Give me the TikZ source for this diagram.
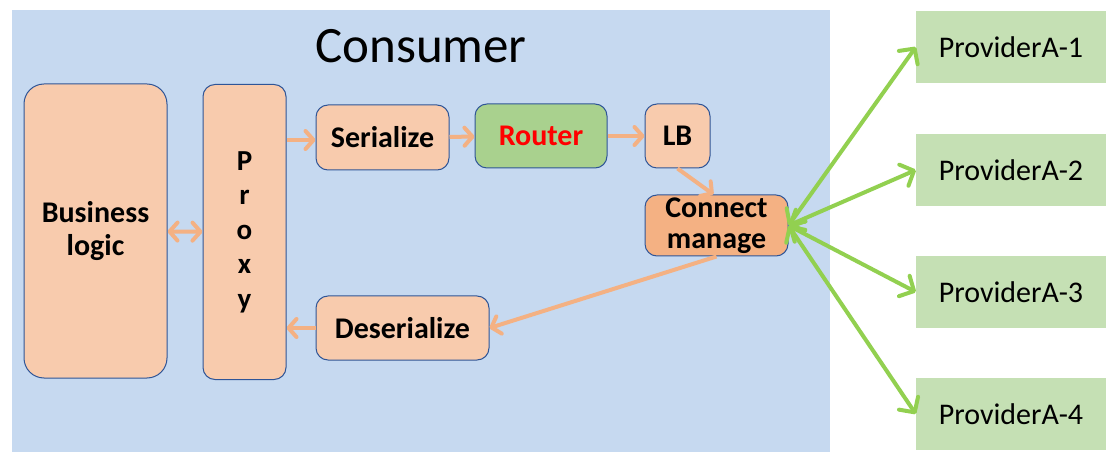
\documentclass[tikz,border=0pt]{standalone}
\usepackage{fontspec}
\setmainfont{Carlito}
\usepackage{tikz}
\usetikzlibrary{arrows.meta}

\definecolor{consbg}{HTML}{C6D9F0}
\definecolor{peach}{HTML}{F8CBAD}
\definecolor{edge}{HTML}{2F5597}
\definecolor{routerg}{HTML}{A9D18E}
\definecolor{connorange}{HTML}{F4B183}
\definecolor{provg}{HTML}{C5E0B4}
\definecolor{linkg}{HTML}{92D050}

\begin{document}
\begin{tikzpicture}
[x=1pt,y=-1pt,
 box/.style={draw=edge,line width=1pt,fill=peach,rounded corners=12pt,
   font=\fontsize{30}{33}\selectfont\bfseries,align=center,inner sep=0pt},
 prov/.style={fill=provg,minimum width=190pt,minimum height=72pt,
   font=\fontsize{30}{32}\selectfont},
 flow/.style={connorange,line width=4pt,
   >={Straight Barb[round,length=8pt,width=18pt]}},
 link/.style={linkg,line width=4pt,
   >={Straight Barb[round,length=11pt,width=23pt]}}]

	\useasboundingbox (0,0) rectangle (1119,454);
	%\draw[gray,step=50] (0,0) grid (1119,454);

	\fill[consbg] (12,10) rectangle (830,452);
	\node [font=\fontsize{51}{54}\selectfont] (title) at (421,46) {Consumer};

	\node[box,rounded corners=20pt,minimum width=143pt,minimum height=294pt] (biz) at (95.5,231)
	{Business\\logic};
	\node[box,minimum width=83pt,minimum height=295pt,font=\fontsize{29}{34.5}\selectfont\bfseries] (proxy) at (244.5,232)
	{P\\r\\o\\x\\y};
	\node[box,minimum width=133pt,minimum height=65pt] (ser) at (382.5,137.5)
	{Serialize};
	\node[box,fill=routerg,text=red,minimum width=132pt,minimum height=64pt] (router) at (541,136)
	{Router};
	\node[box,minimum width=65pt,minimum height=64pt] (lb) at (677.5,136)
	{LB};
	\node[box,fill=connorange,minimum width=143pt,minimum height=61pt,
	  font=\fontsize{30}{31}\selectfont\bfseries] (con) at (716.5,225.5)
	{Connect\\manage};
	\node[box,minimum width=173pt,minimum height=64pt] (deser) at (402.5,328)
	{Deserialize};

	\node[prov] (p1) at (1011,47) {ProviderA-1};
	\node[prov] (p2) at (1011,170) {ProviderA-2};
	\node[prov] (p3) at (1011,292) {ProviderA-3};
	\node[prov] (p4) at (1011,414) {ProviderA-4};

	\draw[flow,<->] (biz) -- (proxy);
	\draw[flow,->] (proxy.east |- 0,140) -- (ser.west |- 0,140);
	\draw[flow,->] (ser) -- (router);
	\draw[flow,->] (router) -- (lb);
	\draw[flow,->] (lb.south) -- ([xshift=-3pt]con.north);
	\draw[flow,->] (con.south) -- (deser.east);
	\draw[flow,->] (deser.west) -- (proxy.east |- deser.west);

	\foreach \p in {p1,p2,p3,p4}
		\draw[link,<->] (con.east) -- (\p.west);
\end{tikzpicture}
\end{document}
